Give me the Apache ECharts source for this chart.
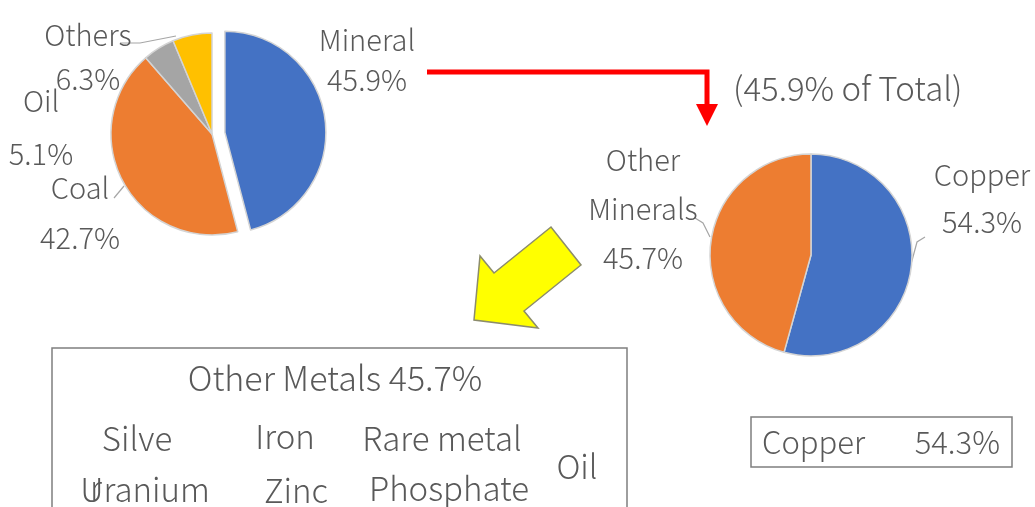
<!DOCTYPE html>
<html>
<head>
<meta charset="utf-8">
<script src="https://cdn.jsdelivr.net/npm/echarts@6/dist/echarts.min.js"></script>
<style>
html,body{margin:0;padding:0;background:#fff;}
#c{width:1035px;height:507px;}
</style>
</head>
<body>
<div id="c"></div>
<script>
// ---- data ----
const mainCats = ['Mineral', 'Coal', 'Oil', 'Others'];
const mainVals = [45.9, 42.7, 5.1, 6.3];
const subCats = ['Copper', 'Other\nMinerals'];
const subVals = [54.3, 45.7];
const mineralShareText = '(45.9% of Total)';
const otherMetalsTitle = 'Other Metals 45.7%';
const otherMetals = ['Silve', 'Iron', 'Rare metal', 'Oil', 'Uranium', 'Zinc', 'Phosphate', 'r'];
const copperBoxText = ['Copper', '54.3%'];

// ---- styles / layout ----
const FONT = '"Noto Sans CJK JP", "Noto Sans", sans-serif';
const TXT = '#595959';
const colorsMain = ['#4472C4', '#ED7D31', '#A5A5A5', '#FFC000'];
const colorsSub = ['#4472C4', '#ED7D31'];
// [x, y, lineHeight]
const mainLabelPos = [[367, 60, 40], [80, 213, 50], [41, 127, 53], [88, 57, 44]];
const mainLeaders = [null, [[114, 198], [119, 192], [124, 186]], null, [[120, 43], [140, 43], [176, 36]]];
const subLabelPos = [[982, 198, 47], [643, 209, 49]];
const subLeaders = [[[925, 237], [917, 242], [910, 268]], [[695, 218], [703, 223], [710, 237]]];
const explodedIdx = 0;
const metalPos = [[137, 438], [285, 436], [442, 438], [577, 466], [145, 489], [296, 490], [449, 488], [96, 487]];

const chart = echarts.init(document.getElementById('c'), null, {renderer: 'canvas'});

const fmt = p => p.name + '\n' + p.value.toFixed(1) + '%';
const hidden = {color: 'rgba(0,0,0,0)', borderWidth: 0};

// part: 'all' | 'only' (only explodedIdx visible) | 'rest' (all but explodedIdx)
function pieSeries(cats, vals, colors, center, lpos, leaders, part) {
  const visible = i => part === 'all' || (part === 'only' ? i === explodedIdx : i !== explodedIdx);
  return {
    type: 'pie',
    center: center,
    radius: 101,
    startAngle: 90,
    clockwise: true,
    avoidLabelOverlap: false,
    animation: false,
    silent: true,
    itemStyle: {borderColor: '#d4d4d4', borderWidth: 1.5},
    label: {
      show: true, position: 'outside', formatter: fmt,
      fontFamily: FONT, fontSize: 29, fontWeight: 300, color: TXT, align: 'center'
    },
    labelLine: {show: true, length: 5, length2: 5, lineStyle: {color: '#a6a6a6', width: 1.2}},
    emphasis: {disabled: true},
    labelLayout: function (p) {
      const q = lpos[p.dataIndex];
      const o = {x: q[0], y: q[1], align: 'center', verticalAlign: 'middle'};
      if (leaders[p.dataIndex]) o.labelLinePoints = leaders[p.dataIndex];
      return o;
    },
    data: cats.map((c, i) => ({
      name: c, value: vals[i],
      itemStyle: visible(i) ? {color: colors[i]} : hidden,
      label: {show: visible(i), lineHeight: lpos[i][2]},
      labelLine: {show: visible(i) && !!leaders[i]}
    }))
  };
}

// exploded slice offset along its bisector
function explodeCenter(center, vals, idx, dist) {
  const tot = vals.reduce((a, b) => a + b, 0);
  let before = 0;
  for (let i = 0; i < idx; i++) before += vals[i];
  const mid = (before + vals[idx] / 2) / tot * 2 * Math.PI;
  return [center[0] + Math.sin(mid) * dist, center[1] - Math.cos(mid) * dist];
}

const graphics = [];
// red arrow
graphics.push({type: 'polyline', shape: {points: [[427, 72], [707, 72], [707, 106]]},
  style: {stroke: '#FF0000', lineWidth: 5, fill: null}, z: 10});
graphics.push({type: 'polygon', shape: {points: [[696, 104], [718, 104], [707, 126]]},
  style: {fill: '#FF0000'}, z: 10});
graphics.push({type: 'text', x: 733, y: 88, style: {text: mineralShareText, font: '300 33px ' + FONT, fill: TXT, textVerticalAlign: 'middle'}});
// yellow arrow
graphics.push({type: 'polygon', shape: {points: [[551, 227], [494, 273], [480, 256], [474, 320], [538, 328], [524, 311], [581, 265]]},
  style: {fill: '#FFFF00', stroke: '#8c8c6c', lineWidth: 1.5}, z: 10});
// box 1
graphics.push({type: 'rect', shape: {x: 52, y: 348, width: 575, height: 180},
  style: {fill: null, stroke: '#7f7f7f', lineWidth: 1.5}});
graphics.push({type: 'text', x: 335, y: 378, style: {text: otherMetalsTitle, font: '300 34px ' + FONT, fill: TXT, textAlign: 'center', textVerticalAlign: 'middle'}});
otherMetals.forEach((m, i) => {
  graphics.push({type: 'text', x: metalPos[i][0], y: metalPos[i][1],
    style: {text: m, font: '300 33px ' + FONT, fill: TXT, textAlign: 'center', textVerticalAlign: 'middle'}});
});
// box 2
graphics.push({type: 'rect', shape: {x: 751, y: 417, width: 261, height: 50},
  style: {fill: null, stroke: '#7f7f7f', lineWidth: 1.5}});
graphics.push({type: 'text', x: 762, y: 442, style: {text: copperBoxText[0], font: '300 31px ' + FONT, fill: TXT, textVerticalAlign: 'middle'}});
graphics.push({type: 'text', x: 1000, y: 442, style: {text: copperBoxText[1], font: '300 31px ' + FONT, fill: TXT, textAlign: 'right', textVerticalAlign: 'middle'}});

const mainCenter = [212, 134];
chart.setOption({
  backgroundColor: '#fff',
  animation: false,
  series: [
    pieSeries(mainCats, mainVals, colorsMain, mainCenter, mainLabelPos, mainLeaders, 'rest'),
    pieSeries(mainCats, mainVals, colorsMain, explodeCenter(mainCenter, mainVals, explodedIdx, 13), mainLabelPos, mainLeaders, 'only'),
    pieSeries(subCats, subVals, colorsSub, [811, 255], subLabelPos, subLeaders, 'all')
  ],
  graphic: {elements: graphics}
});
</script>
</body>
</html>
